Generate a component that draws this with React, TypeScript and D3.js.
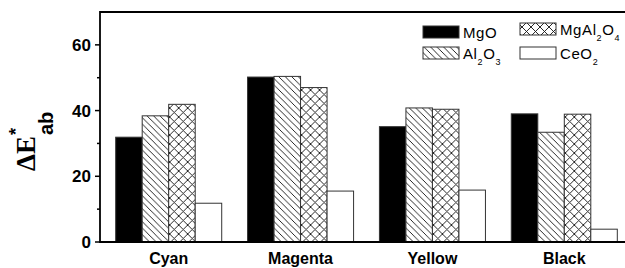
import React from "react";
import * as d3 from "d3";

// colour difference values
const categories = ["Cyan", "Magenta", "Yellow", "Black"];
const seriesNames = ["MgO", "Al2O3", "MgAl2O4", "CeO2"];
const mgo = [31.9, 50.2, 35.1, 39.0];
const al2o3 = [38.4, 50.4, 40.8, 33.4];
const mgal2o4 = [41.9, 47.0, 40.4, 38.9];
const ceo2 = [11.8, 15.5, 15.8, 3.9];
const majorTicks = [0, 20, 40, 60];
const minorTicks = [10, 30, 50];

const W = 625;
const H = 268;
const margin = { top: 12, left: 100, bottom: 26 };

const fills = ["#000", "url(#hatch)", "url(#cross)", "#fff"];
const seriesValues = [mgo, al2o3, mgal2o4, ceo2];

// legend labels with subscripts
const legendParts: [string, string][][] = [
  [["MgO", ""]],
  [["Al", ""], ["2", "sub"], ["O", ""], ["3", "sub"]],
  [["MgAl", ""], ["2", "sub"], ["O", ""], ["4", "sub"]],
  [["CeO", ""], ["2", "sub"]],
];

export default function App() {
  const plotBottom = H - margin.bottom;

  const x = d3
    .scaleBand<string>()
    .domain(categories)
    .range([margin.left, 633])
    .paddingInner(0.196)
    .paddingOuter(0.119);

  const xs = d3.scaleBand<string>().domain(seriesNames).range([0, x.bandwidth()]);

  const y = d3.scaleLinear().domain([0, 70]).range([plotBottom, margin.top]);

  const sans = "Arial, 'Liberation Sans', sans-serif";

  return (
    <svg
      width={W}
      height={H}
      style={{ position: "absolute", left: 0, top: 0, background: "#fff" }}
    >
      <defs>
        <pattern id="hatch" patternUnits="userSpaceOnUse" width={6.5} height={6.5}>
          <rect width={6.5} height={6.5} fill="#fff" />
          <path d="M0,0L6.5,6.5M-1,5.5L1,7.5M5.5,-1L7.5,1" stroke="#111" strokeWidth={0.9} />
        </pattern>
        <pattern id="cross" patternUnits="userSpaceOnUse" width={9} height={9}>
          <rect width={9} height={9} fill="#fff" />
          <path
            d="M0,0L9,9M-1,8L1,10M8,-1L10,1M0,9L9,0M-1,1L1,-1M8,10L10,8"
            stroke="#111"
            strokeWidth={0.9}
          />
        </pattern>
      </defs>

      {/* Bars */}
      {categories.map((c, ci) => (
        <g key={c} transform={`translate(${x(c)},0)`}>
          {seriesNames.map((s, si) => {
            const v = seriesValues[si][ci];
            return (
              <rect
                key={s}
                x={xs(s)}
                y={y(v)}
                width={xs.bandwidth()}
                height={y(0) - y(v)}
                fill={fills[si]}
                stroke="#333"
                strokeWidth={1}
              />
            );
          })}
        </g>
      ))}

      {/* Frame */}
      <line x1={margin.left} x2={W} y1={margin.top} y2={margin.top} stroke="#000" strokeWidth={2} />
      <line x1={margin.left} x2={W} y1={plotBottom} y2={plotBottom} stroke="#000" strokeWidth={2} />
      <line x1={margin.left} x2={margin.left} y1={margin.top - 1} y2={plotBottom + 1} stroke="#000" strokeWidth={1.8} />

      {/* Y axis ticks */}
      {majorTicks.map((t) => (
        <g key={t}>
          <line x1={margin.left - 5} x2={margin.left} y1={y(t)} y2={y(t)} stroke="#000" strokeWidth={1.5} />
          <text
            x={margin.left - 9}
            y={y(t)}
            dy="0.36em"
            textAnchor="end"
            fontFamily={sans}
            fontWeight="bold"
            fontSize={17}
          >
            {t}
          </text>
        </g>
      ))}
      {minorTicks.map((t) => (
        <line key={t} x1={margin.left - 3} x2={margin.left} y1={y(t)} y2={y(t)} stroke="#000" strokeWidth={1.5} />
      ))}

      {/* Y title */}
      <text transform="translate(35,171) rotate(-90)" fontWeight="bold">
        <tspan fontFamily="'Liberation Serif', 'Times New Roman', serif" fontSize={27}>
          ΔE
        </tspan>
        <tspan fontFamily={sans} fontSize={18} dx={1} dy={-13}>
          *
        </tspan>
        <tspan fontFamily={sans} fontSize={20} dx={-7} dy={31}>
          ab
        </tspan>
      </text>

      {/* Category labels */}
      {categories.map((c) => (
        <text
          key={c}
          x={(x(c) ?? 0) + x.bandwidth() / 2}
          y={264}
          textAnchor="middle"
          fontFamily={sans}
          fontWeight="bold"
          fontSize={16}
        >
          {c}
        </text>
      ))}

      {/* Legend */}
      {seriesNames.map((s, i) => {
        const col = i < 2 ? 0 : 1;
        const row = i % 2;
        const lx = col === 0 ? 423 : 520;
        const ly = (row === 0 ? (col === 0 ? 26 : 23) : 47);
        return (
          <g key={s}>
            <rect x={lx} y={ly} width={36} height={12} fill={fills[i]} stroke="#333" strokeWidth={1} />
            <text x={lx + 40} y={ly + 11.5} fontFamily={sans} fontSize={15} letterSpacing={0.6}>
              {legendParts[i].map(([t, kind], k) =>
                kind === "sub" ? (
                  <tspan key={k} fontSize={9} dy={6}>
                    {t}
                  </tspan>
                ) : (
                  <tspan key={k} dy={k === 0 ? 0 : -6}>
                    {t}
                  </tspan>
                )
              )}
            </text>
          </g>
        );
      })}
    </svg>
  );
}
